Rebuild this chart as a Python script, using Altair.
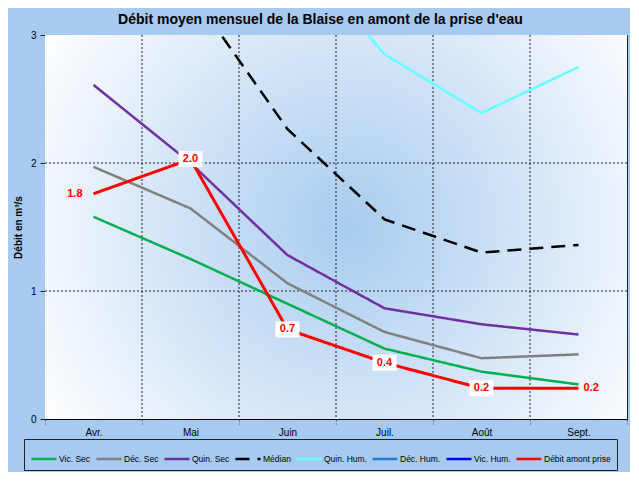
import altair as alt
import pandas as pd

months = ["Avr.", "Mai", "Juin", "Juil.", "Août", "Sept."]
series_names = ["Vic. Sec", "Déc. Sec", "Quin. Sec", "Médian", "Quin. Hum.",
                "Déc. Hum.", "Vic. Hum.", "Débit amont prise"]
vic_sec = [1.58, 1.25, 0.90, 0.55, 0.37, 0.27]
dec_sec = [1.97, 1.645, 1.06, 0.68, 0.475, 0.505]
quin_sec = [2.61, 2.00, 1.28, 0.865, 0.74, 0.66]
median = [3.9, 3.34, 2.265, 1.56, 1.30, 1.36]
quin_hum = [5.2, 4.5, 3.75, 2.85, 2.39, 2.75]
dec_hum = [6.5, 5.8, 4.9, 3.9, 3.3, 3.7]
vic_hum = [7.8, 7.0, 6.0, 4.8, 4.1, 4.6]
debit_amont = [1.76, 2.03, 0.70, 0.44, 0.24, 0.24]
colors = ["#00B050", "#808080", "#7030A0", "#000000", "#66FFFF",
          "#1C7FD0", "#0000FF", "#FF0000"]
dashes = [[1, 0], [1, 0], [1, 0], [14, 8], [1, 0], [1, 0], [1, 0], [1, 0]]
grid_y = [1, 2]
grid_x = months[1:]

all_series = [vic_sec, dec_sec, quin_sec, median, quin_hum, dec_hum, vic_hum, debit_amont]
rows = []
for name, vals in zip(series_names, all_series):
    for m, v in zip(months, vals):
        rows.append({"mois": m, "serie": name, "val": v})
df = pd.DataFrame(rows)

W, H = 582, 384
FONT = "Liberation Sans"

x_scale = alt.Scale(type="band", paddingInner=0, paddingOuter=0, domain=months)
y_scale = alt.Scale(domain=[0, 3], nice=False)
x_axis = alt.Axis(title=None, tickBand="extent", grid=False,
                  labelAngle=0, labelPadding=3, tickSize=5,
                  tickColor="#555", tickDash=[2, 2])
y_axis = alt.Axis(values=[0, 1, 2, 3], format="d", title="Débit en m³/s",
                  titleFontWeight="bold", titleFontSize=10,
                  titlePadding=7, grid=False, tickSize=5,
                  tickColor="#222", labelPadding=4)
x_enc = alt.X("mois:N", sort=months, scale=x_scale, axis=x_axis)
y_enc = alt.Y("val:Q", scale=y_scale, axis=y_axis)
color_enc = alt.Color("serie:N", scale=alt.Scale(domain=series_names, range=colors),
                      legend=alt.Legend(title=None))
dash_enc = alt.StrokeDash("serie:N", scale=alt.Scale(domain=series_names, range=dashes),
                          legend=alt.Legend(title=None))

gradient = {
    "gradient": "radial",
    "stops": [{"offset": 0, "color": "#A9CCEF"},
              {"offset": 0.45, "color": "#CFE2F6"},
              {"offset": 1, "color": "#FFFFFF"}],
    "x1": 0.52, "y1": 0.5, "r1": 0,
    "x2": 0.52, "y2": 0.5, "r2": 0.62,
}

bg = alt.Chart(pd.DataFrame({"k": [0]})).mark_rect(fill=gradient).encode(
    x=alt.value(0), x2=alt.value(W), y=alt.value(0), y2=alt.value(H))

hgrid = alt.Chart(pd.DataFrame({"val": grid_y})).mark_rule(
    color="#222", strokeDash=[2, 2], strokeWidth=1).encode(y=y_enc)
vgrid = alt.Chart(pd.DataFrame({"mois": grid_x})).mark_rule(
    color="#222", strokeDash=[2, 2], strokeWidth=1).encode(
    x=alt.X("mois:N", sort=months, scale=x_scale, axis=x_axis, bandPosition=0))

base = alt.Chart(df)
others = base.transform_filter(alt.datum.serie != "Débit amont prise").mark_line(
    strokeWidth=2.5, clip=True).encode(x=x_enc, y=y_enc, color=color_enc, strokeDash=dash_enc)
red = base.transform_filter(alt.datum.serie == "Débit amont prise").mark_line(
    strokeWidth=3, clip=True).encode(x=x_enc, y=y_enc, color=color_enc, strokeDash=dash_enc)

red_pts = base.transform_filter(alt.datum.serie == "Débit amont prise")
boxes = red_pts.transform_filter(
    alt.FieldOneOfPredicate(field="mois", oneOf=["Mai", "Juin", "Juil.", "Août"])
).mark_point(shape="M-1.2,-0.8H1.2V0.8H-1.2Z", filled=True, fill="white",
             opacity=1, size=400, strokeWidth=0).encode(x=x_enc, y=y_enc)
txt_c = red_pts.transform_filter(
    alt.FieldOneOfPredicate(field="mois", oneOf=["Mai", "Juin", "Juil.", "Août"])
).mark_text(font=FONT, fontSize=11, fontWeight="bold", color="#FF0000").encode(
    x=x_enc, y=y_enc, text=alt.Text("val:Q", format=".1f"))
txt_l = red_pts.transform_filter(alt.datum.mois == "Avr.").mark_text(
    font=FONT, fontSize=11, fontWeight="bold", color="#FF0000", align="right", dx=-11
).encode(x=x_enc, y=y_enc, text=alt.Text("val:Q", format=".1f"))
txt_r = red_pts.transform_filter(alt.datum.mois == "Sept.").mark_text(
    font=FONT, fontSize=11, fontWeight="bold", color="#FF0000", align="left", dx=5
).encode(x=x_enc, y=y_enc, text=alt.Text("val:Q", format=".1f"))

chart = alt.layer(bg, hgrid, vgrid, others, red, boxes, txt_c, txt_l, txt_r).properties(
    width=W, height=H,
    padding={"left": 5, "top": 5, "right": 2, "bottom": 1},
    background="#A6CAF0",
    title=alt.Title("Débit moyen mensuel de la Blaise en amont de la prise d'eau",
                    font=FONT, fontSize=14, fontWeight="bold", color="black",
                    anchor="middle", frame="bounds", offset=3),
).configure_view(stroke="#222", strokeWidth=1).configure_axis(
    labelFont=FONT, titleFont=FONT, labelFontSize=10, labelColor="black",
    titleColor="black", domainColor="black", domainWidth=1
).configure_legend(
    orient="none", legendX=-21, legendY=H + 20, direction="horizontal", columns=8,
    strokeColor="#222", padding=6, symbolType="stroke", symbolSize=625,
    symbolStrokeWidth=2.5, labelFont=FONT, labelFontSize=8.5, labelColor="black",
    labelOffset=1, columnPadding=0, fillColor="#A6CAF0"
)

chart.save("out.html", embed_options={"renderer": "svg", "actions": False})
